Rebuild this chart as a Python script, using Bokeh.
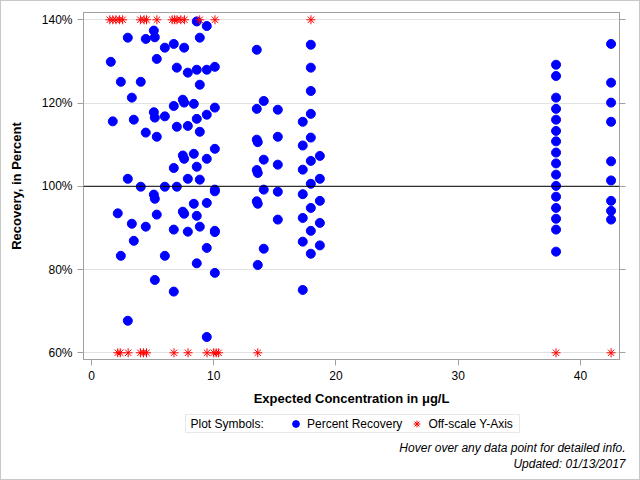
from bokeh.plotting import figure
from bokeh.layouts import column
from bokeh.models import (Range1d, LinearAxis, FixedTicker, Span, Legend, LegendItem,
                          Label, BoxAnnotation)
from bokeh.embed import file_html
from bokeh.resources import INLINE

# ---- data ----
conc = [
    1.58, 1.74, 2.15, 2.40, 2.40,
    2.97, 2.97, 2.97, 3.30, 3.30, 3.46, 3.46, 4.03, 4.03,
    4.44, 4.44, 4.44, 5.10, 5.10, 5.10, 5.18, 5.18, 5.18, 5.18,
    5.34, 5.34, 5.34, 6.00, 6.00, 6.00, 6.00,
    6.73, 6.73, 6.73, 6.73, 6.73, 6.98, 6.98, 6.98,
    7.47, 7.47, 7.47, 7.58, 7.58, 7.58, 7.58,
    7.88, 7.88, 7.88, 7.88, 8.37, 8.37, 8.37,
    8.61, 8.61, 8.61, 8.61, 8.61, 8.61,
    8.86, 8.86, 8.86, 8.86, 8.86,
    9.43, 9.43, 9.43, 9.43, 9.43, 9.43, 9.43,
    10.09, 10.09, 10.09, 10.09, 10.09, 10.09, 10.09, 10.09,
    13.52, 13.52, 13.52, 13.60, 13.52, 13.60, 13.52, 13.60, 13.60,
    14.09, 14.09, 14.09, 14.09,
    15.24, 15.24, 15.24, 15.24, 15.24,
    17.28, 17.28, 17.28, 17.28, 17.28, 17.28, 17.28,
    17.94, 17.94, 17.94, 17.94, 17.94, 17.94, 17.94, 17.94, 17.94, 17.94,
    18.68, 18.68, 18.68, 18.68, 18.68,
    38.0, 38.0, 38.0, 38.0, 38.0, 38.0, 38.0, 38.0,
    38.0, 38.0, 38.0, 38.0, 38.0, 38.0, 38.0, 38.0,
    42.5, 42.5, 42.5, 42.5, 42.5, 42.5, 42.5, 42.5, 42.5,
]
recovery = [
    129.9, 115.6, 93.5, 125.1, 83.3,
    135.7, 101.8, 67.7, 121.3, 91.0, 116.0, 86.9, 125.1, 99.9,
    135.4, 112.9, 90.3, 137.4, 117.8, 98.0, 135.8, 116.5, 97.0, 77.5,
    130.6, 111.9, 93.2, 133.3, 116.8, 99.9, 83.3,
    134.2, 119.3, 104.4, 89.6, 74.7, 128.5, 114.3, 99.9,
    120.8, 107.4, 93.9, 133.3, 120.1, 106.6, 93.4,
    127.3, 114.5, 101.8, 89.1, 119.8, 107.8, 95.8,
    139.6, 128.0, 116.2, 104.7, 92.9, 81.5,
    135.7, 124.4, 113.1, 101.6, 90.3,
    138.5, 128.0, 117.2, 106.6, 96.0, 85.2, 63.8,
    128.7, 118.9, 109.0, 99.2, 98.8, 89.3, 89.0, 79.2,
    132.8, 118.6, 111.2, 110.6, 103.9, 103.2, 96.4, 95.8, 81.1,
    120.5, 106.4, 99.2, 85.0,
    118.4, 111.9, 105.2, 98.7, 92.0,
    115.5, 109.8, 104.0, 98.1, 92.4, 86.7, 75.1,
    134.0, 128.5, 122.9, 117.4, 111.7, 106.1, 100.6, 94.8, 89.3, 83.8,
    107.3, 101.8, 96.5, 91.2, 85.8,
    129.2, 126.5, 121.3, 118.6, 116.0, 113.3, 110.8, 108.1,
    105.5, 102.8, 100.1, 97.5, 94.8, 92.2, 89.6, 84.3,
    134.2, 124.9, 120.1, 115.5, 106.0, 101.4, 96.5, 94.1, 92.0,
]
# concentrations whose recovery is off the y scale (drawn at the axis limits)
off_high_conc = [1.5, 1.75, 2.0, 2.3, 2.55, 4.0, 4.3, 4.5, 5.35,
                 6.6, 6.8, 7.0, 7.3, 7.6, 8.85, 10.1, 17.95]
off_low_conc = [2.15, 2.35, 3.0, 4.0, 4.25, 4.5, 6.75, 7.9, 9.45,
                10.0, 10.2, 10.4, 13.6, 38.0, 42.5]

x_ticks = [0, 10, 20, 30, 40]
y_ticks = [60, 80, 100, 120, 140]
y_tick_labels = ["60%", "80%", "100%", "120%", "140%"]
reference_level = 100

FONT = "Liberation Sans"
AXIS_GRAY = "#a0a0a0"
BLUE = "#0000ff"
RED = "#ff0000"
W = 638
LEFT, RIGHT = 82, 7
W1 = 625          # main plot canvas width -> frame right edge at 618

# ---------------- main plot ----------------
p = figure(width=W1, height=410, output_backend="svg", toolbar_location=None,
           x_range=Range1d(-0.654, 43.19), y_range=Range1d(58.39, 141.75),
           min_border_left=LEFT, min_border_right=RIGHT, min_border_top=11,
           min_border_bottom=52)
p.background_fill_color = "white"
p.border_fill_color = "white"
p.outline_line_color = AXIS_GRAY

xa = p.xaxis[0]
xa.ticker = FixedTicker(ticks=x_ticks)
xa.axis_label = "Expected Concentration in μg/L"
ya = p.yaxis[0]
ya.ticker = FixedTicker(ticks=y_ticks)
ya.major_label_overrides = {t: l for t, l in zip(y_ticks, y_tick_labels)}
ya.axis_label = "Recovery, in Percent"

for ax in (xa, ya):
    ax.axis_line_color = AXIS_GRAY
    ax.major_tick_line_color = AXIS_GRAY
    ax.minor_tick_line_color = None
    ax.major_tick_in = 0
    ax.major_tick_out = 6
    ax.major_label_text_font = FONT
    ax.major_label_text_font_size = "12px"
    ax.major_label_text_color = "black"
    ax.axis_label_text_font = FONT
    ax.axis_label_text_font_size = "13px"
    ax.axis_label_text_font_style = "bold"
    ax.axis_label_text_color = "black"
xa.major_label_standoff = 5
xa.axis_label_standoff = 8
ya.major_label_standoff = 5
ya.axis_label_standoff = 15

ra = LinearAxis(ticker=FixedTicker(ticks=y_ticks), major_label_text_font_size="1px",
                major_label_text_color=None,
                axis_line_color=AXIS_GRAY, major_tick_line_color=AXIS_GRAY,
                minor_tick_line_color=None, major_tick_in=0, major_tick_out=6,
                major_label_standoff=0)
p.add_layout(ra, "right")

p.xgrid.visible = False
p.ygrid.ticker = FixedTicker(ticks=y_ticks)
p.ygrid.grid_line_color = "#e2e2e2"

p.add_layout(Span(location=reference_level, dimension="width",
                  line_color="black", line_width=1))

p.scatter(conc, recovery, marker="circle", size=9, fill_color=BLUE, line_color=BLUE)
hi_y = [y_ticks[-1]] * len(off_high_conc)
lo_y = [y_ticks[0]] * len(off_low_conc)
p.scatter(off_high_conc, hi_y, marker="asterisk", size=9, line_color=RED, line_width=1)
p.scatter(off_low_conc, lo_y, marker="asterisk", size=9, line_color=RED, line_width=1)

# ---------------- legend / footnote strip ----------------
# (frame of this strip shares the main plot's borders; data units = canvas px)
H2 = 68
q = figure(width=W, height=H2, output_backend="svg", toolbar_location=None,
           x_range=Range1d(LEFT, W - RIGHT), y_range=Range1d(H2, 0),
           x_axis_type=None, y_axis_type=None,
           min_border_left=LEFT, min_border_right=RIGHT, min_border_top=0,
           min_border_bottom=0)
q.outline_line_color = None
q.grid.visible = False
q.background_fill_color = "white"
q.border_fill_color = "white"

q.add_layout(BoxAnnotation(left=184, right=518, top=3, bottom=21,
                           fill_color="white", fill_alpha=1,
                           line_color="#b4b4b4", line_width=1))
q.add_layout(Label(x=189, y=12, text="Plot Symbols:", text_baseline="middle",
                   text_font=FONT, text_font_size="12px", text_color="black"))

# hidden copies of the series, used only to draw the legend glyphs
proxy_blue = q.scatter(conc, recovery, marker="circle", size=9,
                       fill_color=BLUE, line_color=BLUE, visible=False)
proxy_red = q.scatter(off_high_conc, hi_y, marker="asterisk", size=9,
                      line_color=RED, line_width=1, visible=False)
legend = Legend(items=[LegendItem(label="Percent Recovery", renderers=[proxy_blue]),
                       LegendItem(label="Off-scale Y-Axis", renderers=[proxy_red])],
                orientation="horizontal", location=(286 - LEFT, H2 - 21),
                label_text_font=FONT, label_text_font_size="12px",
                label_text_color="black",
                label_standoff=3, spacing=6, padding=0, margin=0,
                glyph_width=17, glyph_height=17, label_height=17,
                border_line_color=None, background_fill_alpha=0)
q.add_layout(legend)

for txt, yy in (("Hover over any data point for detailed info.", 36),
                ("Updated: 01/13/2017", 52)):
    q.add_layout(Label(x=624, y=yy, text=txt, text_align="right",
                       text_baseline="middle", text_font=FONT,
                       text_font_size="12px", text_font_style="italic",
                       text_color="black"))

layout = column(p, q, spacing=0, styles={"border": "1px solid #c8c8c8"})
open("out.html", "w").write(file_html(layout, INLINE))
